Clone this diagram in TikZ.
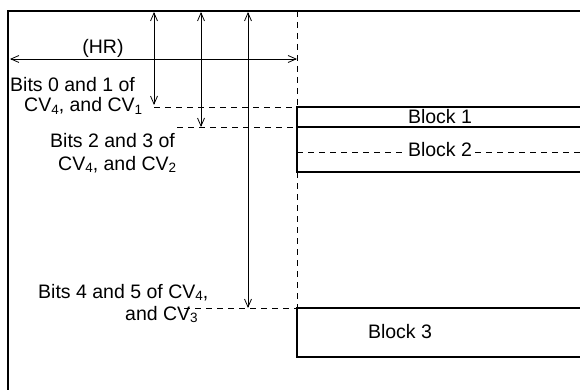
\documentclass[tikz,border=0pt]{standalone}
\usepackage{fontspec}
\setmainfont{Liberation Sans}
\usetikzlibrary{arrows.meta}
\newcommand\lowsub[1]{\raisebox{-0.25ex}{\fontsize{13.5}{14}\selectfont #1}}
\begin{document}
\begin{tikzpicture}[x=1pt,y=-1pt,
  frame/.style={line width=1.8pt},
  blk/.style={line width=1.8pt},
  dim/.style={line width=0.8pt,{Straight Barb[length=8pt,width=7pt]}-{Straight Barb[length=8pt,width=7pt]}},
  guide/.style={line width=0.8pt,dash pattern=on 6pt off 5pt},
  lbl/.style={font=\fontsize{19.5}{23}\selectfont, inner sep=0pt, anchor=base west},
  blocklbl/.style={font=\fontsize{19.5}{23}\selectfont, inner sep=3pt},
]
\useasboundingbox[fill=white] (0,0) rectangle (580,390);
% frame
\coordinate (ftl) at (8,11);
\coordinate (ftr) at (580,11);
\coordinate (fbl) at (8,390);
\draw[frame] (fbl) -- (ftl) -- (ftr);
% blocks
\coordinate (b1tl) at (297,107);
\coordinate (b1tr) at (580,107);
\coordinate (b1bl) at (297,127);
\coordinate (b1br) at (580,127);
\coordinate (b2bl) at (297,172);
\coordinate (b2br) at (580,172);
\coordinate (b3tl) at (297,308);
\coordinate (b3tr) at (580,308);
\coordinate (b3bl) at (297,357);
\coordinate (b3br) at (580,357);
\draw[blk] (b1tr) -- (b1tl) -- (b2bl) -- (b2br);
\draw[blk] (b1bl) -- (b1br);
\draw[blk] (b3tr) -- (b3tl) -- (b3bl) -- (b3br);
\node[blocklbl] (blk1) at (440,117) {Block 1};
\node[blocklbl] (blk2) at (440,150) {Block 2};
\node[blocklbl] (blk3) at (400,332) {Block 3};
\coordinate (b2l) at (297,152);
\coordinate (b2r) at (580,152);
\draw[guide] (b2l) -- (blk2.west |- b2l);
\draw[guide] (blk2.east |- b2r) -- (b2r);
% dashed vertical
\coordinate (vtop) at (297,11);
\draw[guide] (vtop) -- (b1tl);
\draw[guide] (b2bl) -- (b3tl);
% HR
\coordinate (hrl) at (10,59);
\coordinate (hrr) at (297,59);
\draw[dim] (hrl) -- (hrr);
\node[blocklbl] (hr) at (103,48) {(HR)};
% vertical arrows
\coordinate (a1t) at (154,12);
\coordinate (a1b) at (154,105);
\coordinate (a2t) at (201,12);
\coordinate (a2b) at (201,127);
\coordinate (a3t) at (248,12);
\coordinate (a3b) at (248,308);
\draw[dim] (a1t) -- (a1b);
\draw[dim] (a2t) -- (a2b);
\draw[dim] (a3t) -- (a3b);
% dashed horizontals
\coordinate (d1) at (154,107);
\coordinate (d2) at (177,127);
\coordinate (d3) at (184,308);
\draw[guide] (d1) -- (b1tl);
\draw[guide] (d2) -- (b1bl);
\draw[guide] (d3) -- (b3tl);
% labels
\node[lbl] (l1a) at (10,92) {Bits 0 and 1 of};
\node[lbl] (l1b) at (24,112) {CV\lowsub{4}, and CV\lowsub{1}};
\node[lbl] (l2a) at (50,148) {Bits 2 and 3 of};
\node[lbl] (l2b) at (58,170) {CV\lowsub{4}, and CV\lowsub{2}};
\node[lbl] (l3a) at (38,298) {Bits 4 and 5 of CV\lowsub{4},};
\node[lbl] (l3b) at (125,320) {and CV\lowsub{3}};
\end{tikzpicture}
\end{document}
